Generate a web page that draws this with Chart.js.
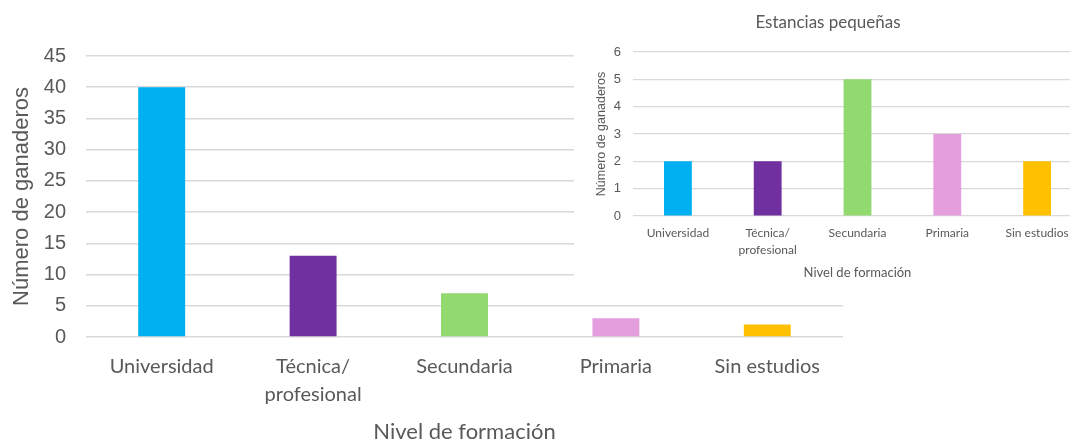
<!DOCTYPE html>
<html lang="es">
<head>
  <meta charset="UTF-8">
  <title>Nivel de formación - ganaderos</title>
  <style>
    html, body { margin:0; padding:0; background:#fff; overflow:hidden; }
    #wrap { position:relative; width:1070px; height:441px; overflow:hidden; }
    #main-chart { position:absolute; left:0; top:0; }
    #inset { position:absolute; left:574px; top:0; width:524px; height:290px; background:#fff; }
  </style>
</head>
<body>
  <div id="wrap">
    <canvas id="main-chart" width="1070" height="441"></canvas>
    <div id="inset">
      <canvas id="inset-chart" width="524" height="290"></canvas>
    </div>
  </div>

  <script src="https://cdn.jsdelivr.net/npm/chart.js"></script>
  <script>
    // niveles de formación y colores de cada barra
    const categories = ['Universidad', ['Técnica/', 'profesional'], 'Secundaria', 'Primaria', 'Sin estudios'];
    const barColors  = ['#00B0F0', '#7030A0', '#92D96F', '#E49EDD', '#FFC000'];

    // todas las estancias
    const totalValues = [40, 13, 7, 3, 2];
    const totalTicks  = [0, 5, 10, 15, 20, 25, 30, 35, 40, 45];

    // estancias pequeñas (recuadro)
    const smallValues = [2, 2, 5, 3, 2];
    const smallTicks  = [0, 1, 2, 3, 4, 5, 6];
    const smallTitle  = 'Estancias pequeñas';

    const yTitle = 'Número de ganaderos';
    const xTitle = 'Nivel de formación';

    const grey  = '#595959';
    const gridC = '#D9D9D9';

    function fixedWidth(w)  { return s => { s.width = w; }; }
    function fixedHeight(h) { return s => { s.height = h; }; }

    new Chart(document.getElementById('main-chart').getContext('2d'), {
      type: 'bar',
      data: { labels: categories, datasets: [{ data: totalValues, backgroundColor: barColors,
        barPercentage: 0.31, categoryPercentage: 1 }] },
      options: {
        responsive: false, animation: false,
        layout: { padding: { top: 56, right: 227, left: 0, bottom: 0 } },
        plugins: { legend: { display: false }, tooltip: { enabled: false } },
        scales: {
          x: {
            afterFit: fixedHeight(104),
            grid: { display: false }, border: { display: false },
            ticks: { color: grey, padding: 8, maxRotation: 0, autoSkip: false,
              font: { family: 'Lato, "Noto Sans", sans-serif', size: 20, lineHeight: 1.4 } },
            title: { display: true, text: xTitle, color: grey, padding: { top: 0, bottom: 0 },
              font: { family: 'Lato, "Noto Sans", sans-serif', size: 22, lineHeight: 0.85 } }
          },
          y: {
            min: 0, max: 45, afterFit: fixedWidth(86),
            afterBuildTicks: s => { s.ticks = totalTicks.map(v => ({ value: v })); },
            grid: { color: gridC, lineWidth: 1.5, drawTicks: false }, border: { display: false },
            ticks: { color: grey, padding: 20,
              font: { family: '"Liberation Sans", Arial, sans-serif', size: 20 } },
            title: { display: true, text: yTitle, color: grey, padding: { top: 9, bottom: 0 },
              font: { family: '"Liberation Sans", Arial, sans-serif', size: 22 } }
          }
        }
      }
    });

    new Chart(document.getElementById('inset-chart').getContext('2d'), {
      type: 'bar',
      data: { labels: categories, datasets: [{ data: smallValues, backgroundColor: barColors,
        barPercentage: 0.31, categoryPercentage: 1 }] },
      options: {
        responsive: false, animation: false,
        layout: { padding: { top: 0, right: 16, left: 0, bottom: 0 } },
        plugins: {
          legend: { display: false }, tooltip: { enabled: false },
          title: { display: true, text: smallTitle, color: grey, padding: { top: 12, bottom: 19.6 },
            font: { family: 'Lato, "Noto Sans", sans-serif', size: 17, weight: 'normal' } }
        },
        scales: {
          x: {
            afterFit: fixedHeight(74),
            grid: { display: false }, border: { display: false },
            ticks: { color: grey, padding: 1, maxRotation: 0, autoSkip: false,
              font: { family: 'Lato, "Noto Sans", sans-serif', size: 12, lineHeight: 1.4 } },
            title: { display: true, text: xTitle, color: grey, padding: { top: 0, bottom: 9 },
              font: { family: 'Lato, "Noto Sans", sans-serif', size: 13 } }
          },
          y: {
            min: 0, max: 6, afterFit: fixedWidth(59),
            afterBuildTicks: s => { s.ticks = smallTicks.map(v => ({ value: v })); },
            grid: { color: gridC, lineWidth: 1.2, drawTicks: false }, border: { display: false },
            ticks: { color: grey, padding: 12,
              font: { family: '"Liberation Sans", Arial, sans-serif', size: 13 } },
            title: { display: true, text: yTitle, color: grey, padding: { top: 20.5, bottom: 0 },
              font: { family: '"Liberation Sans", Arial, sans-serif', size: 12.5 } }
          }
        }
      }
    });
  </script>
</body>
</html>
